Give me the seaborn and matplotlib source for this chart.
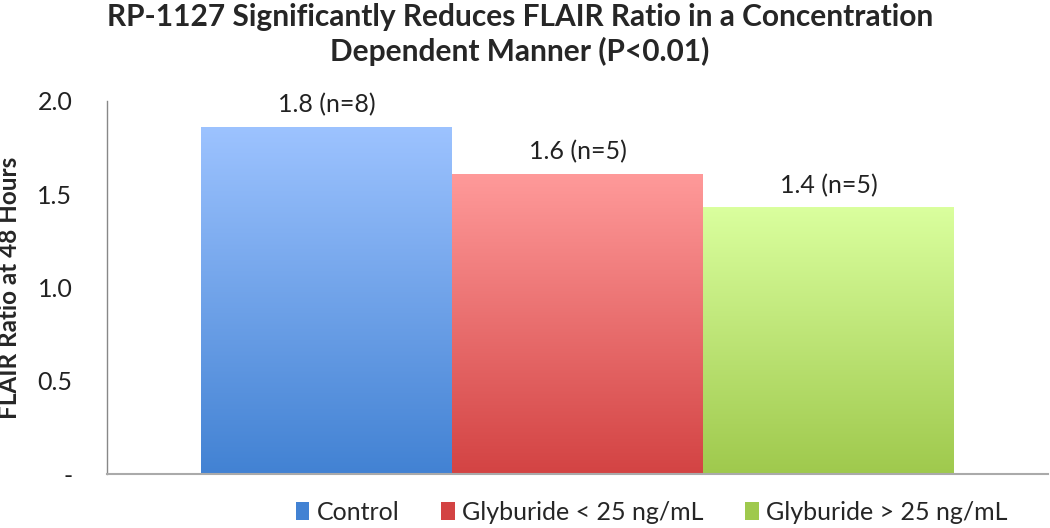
import numpy as np
import pandas as pd
import matplotlib
matplotlib.use("Agg")
import matplotlib.pyplot as plt
from matplotlib.colors import LinearSegmentedColormap
from matplotlib.patches import Patch
import seaborn as sns

groups = ["Control", "Glyburide < 25 ng/mL", "Glyburide > 25 ng/mL"]
ratios = [1.86, 1.61, 1.43]
labels = ["1.8 (n=8)", "1.6 (n=5)", "1.4 (n=5)"]
top_colors = ["#9DC3FF", "#FF9A9A", "#DAFF9E"]
bottom_colors = ["#4282D3", "#D34343", "#9FC94D"]

sns.set_style("white")
plt.rcParams["font.family"] = ["Lato", "DejaVu Sans"]

df = pd.DataFrame({"cat": [""] * 3, "group": groups, "ratio": ratios})

fig = plt.figure(figsize=(10.5, 5.28), dpi=100)
ax = fig.add_axes([0.102, 0.102, 0.896, 0.707])
sns.barplot(data=df, x="cat", y="ratio", hue="group", hue_order=groups,
            palette=bottom_colors, width=0.8, legend=False, ax=ax)

# gradient fill clipped to each bar
for bar, c_top, c_bot, txt in zip(ax.patches, top_colors, bottom_colors, labels):
    x0, y0 = bar.get_x(), bar.get_y()
    w, h = bar.get_width(), bar.get_height()
    cmap = LinearSegmentedColormap.from_list("g", [c_bot, c_top])
    grad = np.linspace(0, 1, 256).reshape(-1, 1)
    im = ax.imshow(grad, cmap=cmap, aspect="auto", origin="lower",
                   extent=[x0, x0 + w, y0, y0 + h], zorder=bar.get_zorder() + 0.1)
    im.set_clip_path(bar)
    bar.set_edgecolor("none")
    ax.text(x0 + w / 2, h + 0.055, txt, ha="center", va="bottom", fontsize=18, color="#222222")

ax.set_xlim(-0.5, 0.5)
ax.set_ylim(0, 2.0)
ax.set_yticks([0, 0.5, 1.0, 1.5, 2.0])
ax.set_yticklabels(["-", "0.5", "1.0", "1.5", "2.0"])
ax.tick_params(axis="y", labelsize=18, length=0, pad=25, colors="#222222")
ax.tick_params(axis="x", length=0, labelbottom=False)
ax.set_xlabel("")
ax.set_ylabel("FLAIR Ratio at 48 Hours", fontsize=17.5, fontweight="bold")
ax.yaxis.set_label_coords(-0.091, 0.5)

for side in ["top", "right"]:
    ax.spines[side].set_visible(False)
ax.spines["left"].set_color("#888888")
ax.spines["bottom"].set_color("#aaaaaa")
ax.spines["left"].set_linewidth(1.0)
ax.spines["bottom"].set_linewidth(1.5)

fig.text(0.495, 0.995,
         "RP-1127 Significantly Reduces FLAIR Ratio in a Concentration\nDependent Manner (P<0.01)",
         ha="center", va="top", fontsize=21.5, fontweight="bold", linespacing=1.25)

handles = [Patch(facecolor=c, edgecolor="none") for c in bottom_colors]
fig.legend(handles, groups, loc="center left", bbox_to_anchor=(0.272, 0.03),
           ncol=3, frameon=False, fontsize=18, handlelength=0.55, handleheight=0.75,
           handletextpad=0.3, columnspacing=1.65, borderaxespad=0)

fig.savefig("out.png", dpi=100)
